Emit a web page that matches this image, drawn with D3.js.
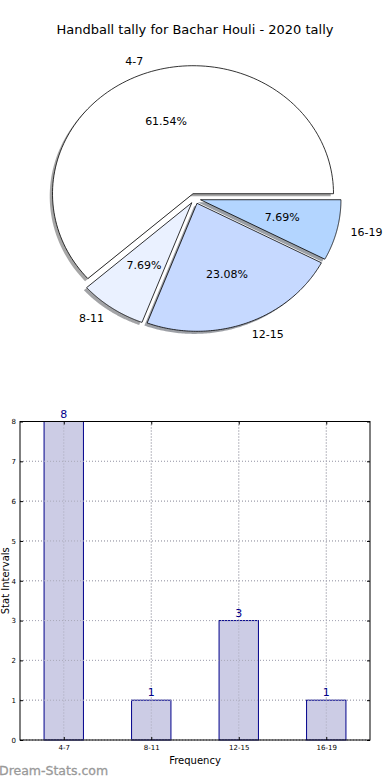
<!DOCTYPE html>
<html><head><meta charset="utf-8">
<script src="https://cdn.jsdelivr.net/npm/d3@7"></script>
<style>body{margin:0;background:#fff;}svg{display:block;font-family:"DejaVu Sans",sans-serif;}</style>
</head><body>
<svg id="c" width="390" height="780"></svg>
<script>
const categories = ["4-7", "8-11", "12-15", "16-19"];
const counts = [8, 1, 3, 1];
const sliceColors = ["#ffffff", "#eaf1ff", "#c6d9ff", "#b3d5ff"];
const yTicks = [0, 1, 2, 3, 4, 5, 6, 7, 8];
const title = "Handball tally for Bachar Houli - 2020 tally";

const svg = d3.select("#c");

// ---------- PIE ----------
const cx = 195, cy = 198.5, rx = 140.5, ry = 128, explode = 0.04;
const total = d3.sum(counts);
svg.append("text").attr("x", 195).attr("y", 30).attr("text-anchor", "middle")
  .attr("dominant-baseline", "middle").attr("font-size", 13).attr("fill", "#000").text(title);

const pieGen = d3.pie().sort(null).value(d => d).startAngle(0).endAngle(2 * Math.PI);
const arcs = pieGen(counts);

function wedgePath(a0, a1, ox, oy) {
  const n = 120;
  let p = `M${ox},${oy}`;
  for (let i = 0; i <= n; i++) {
    const t = a0 + (a1 - a0) * i / n;
    p += `L${ox + rx * Math.cos(t)},${oy - ry * Math.sin(t)}`;
  }
  return p + "Z";
}

const slices = arcs.map((a, i) => {
  const a0 = a.startAngle, a1 = a.endAngle, am = (a0 + a1) / 2;
  const ox = cx + explode * rx * Math.cos(am);
  const oy = cy - explode * ry * Math.sin(am);
  return {a0, a1, am, ox, oy, i};
});

const gPie = svg.append("g");
slices.forEach(s => {
  const c = d3.rgb(sliceColors[s.i]);
  gPie.append("path").attr("d", wedgePath(s.a0, s.a1, s.ox - 2.8, s.oy + 2.6))
    .attr("fill", d3.rgb(c.r * 0.3, c.g * 0.3, c.b * 0.3)).attr("fill-opacity", 0.5)
    .attr("stroke", "none");
});
slices.forEach(s => {
  gPie.append("path").attr("d", wedgePath(s.a0, s.a1, s.ox, s.oy))
    .attr("fill", sliceColors[s.i]).attr("stroke", "#000").attr("stroke-width", 0.8)
    .attr("stroke-linejoin", "miter");
});
slices.forEach(s => {
  const lx = s.ox + 1.1 * rx * Math.cos(s.am), ly = s.oy - 1.1 * ry * Math.sin(s.am);
  gPie.append("text").attr("x", lx + (s.i === 0 ? 5 : 0)).attr("y", ly)
    .attr("text-anchor", Math.cos(s.am) > 0 ? "start" : "end")
    .attr("dominant-baseline", "middle").attr("font-size", 11).text(categories[s.i]);
  const px = s.ox + 0.6 * rx * Math.cos(s.am), py = s.oy - 0.6 * ry * Math.sin(s.am);
  gPie.append("text").attr("x", px + (s.i === 0 ? 3 : 0)).attr("y", py).attr("text-anchor", "middle")
    .attr("dominant-baseline", "middle").attr("font-size", 11)
    .text((counts[s.i] / total * 100).toFixed(2) + "%");
});

// ---------- BAR ----------
const L = 20, R = 370, T = 421.5, B = 740;
const x = d3.scaleLinear().domain([-0.5, categories.length - 0.5]).range([L, R]);
const y = d3.scaleLinear().domain([0, 8]).range([B, T]);
const bw = 0.45;
const gBar = svg.append("g");

gBar.selectAll(".hg").data(yTicks).enter().append("line")
  .attr("x1", L).attr("x2", R).attr("y1", d => y(d)).attr("y2", d => y(d))
  .attr("stroke", "#b0b0b0").attr("stroke-width", 1).attr("stroke-dasharray", "1,2");
gBar.selectAll(".vg").data(categories).enter().append("line")
  .attr("x1", (d, i) => x(i)).attr("x2", (d, i) => x(i)).attr("y1", T).attr("y2", B)
  .attr("stroke", "#b0b0b0").attr("stroke-width", 1).attr("stroke-dasharray", "1,2");

gBar.selectAll(".bar").data(counts).enter().append("rect")
  .attr("x", (d, i) => x(i - bw / 2)).attr("width", x(bw) - x(0))
  .attr("y", d => y(d)).attr("height", d => B - y(d))
  .attr("fill", "#ccccE5").attr("stroke", "#00008b").attr("stroke-width", 1);
gBar.selectAll(".vg2").data(categories).enter().append("line")
  .attr("x1", (d, i) => x(i)).attr("x2", (d, i) => x(i)).attr("y1", T).attr("y2", B)
  .attr("stroke", "#a8a8b8").attr("stroke-width", 1).attr("stroke-dasharray", "1,2");
gBar.selectAll(".hg2").data(yTicks).enter().append("line")
  .attr("x1", L).attr("x2", R).attr("y1", d => y(d)).attr("y2", d => y(d))
  .attr("stroke", "#a8a8b8").attr("stroke-width", 1).attr("stroke-dasharray", "1,2");

gBar.selectAll(".vl").data(counts).enter().append("text")
  .attr("x", (d, i) => x(i)).attr("y", d => y(d) - 4).attr("text-anchor", "middle")
  .attr("font-size", 11).attr("fill", "#00008b").text(d => d);

gBar.append("rect").attr("x", L).attr("y", T).attr("width", R - L).attr("height", B - T)
  .attr("fill", "none").attr("stroke", "#000").attr("stroke-width", 1);

const yAxis = d3.axisLeft(y).tickValues(yTicks).tickSize(-3).tickPadding(4).tickFormat(d3.format("d"));
const gy = gBar.append("g").attr("transform", `translate(${L},0)`).call(yAxis);
gy.select(".domain").remove();
gy.selectAll("text").attr("font-size", 7).attr("font-family", "DejaVu Sans");
const gy2 = gBar.append("g").attr("transform", `translate(${R},0)`).call(d3.axisRight(y).tickValues(yTicks).tickSize(-3).tickFormat(""));
gy2.select(".domain").remove();

const xAxis = d3.axisBottom(x).tickValues(d3.range(categories.length)).tickSize(-3).tickPadding(5)
  .tickFormat(i => categories[i]);
const gx = gBar.append("g").attr("transform", `translate(0,${B})`).call(xAxis);
gx.select(".domain").remove();
gx.selectAll("text").attr("font-size", 7).attr("font-family", "DejaVu Sans");
const gx2 = gBar.append("g").attr("transform", `translate(0,${T})`).call(d3.axisTop(x).tickValues(d3.range(categories.length)).tickSize(-3).tickFormat(""));
gx2.select(".domain").remove();

svg.append("text").attr("x", (L + R) / 2).attr("y", 764).attr("text-anchor", "middle")
  .attr("font-size", 10).text("Frequency");
svg.append("text").attr("transform", `translate(8.5,${(T + B) / 2}) rotate(-90)`)
  .attr("text-anchor", "middle").attr("font-size", 10).text("Stat Intervals");

svg.append("text").attr("x", -1).attr("y", 775).attr("font-size", 12.5)
  .attr("fill", "#999999").attr("stroke", "#999999").attr("stroke-width", 0.3).text("Dream-Stats.com");
</script>
</body></html>
